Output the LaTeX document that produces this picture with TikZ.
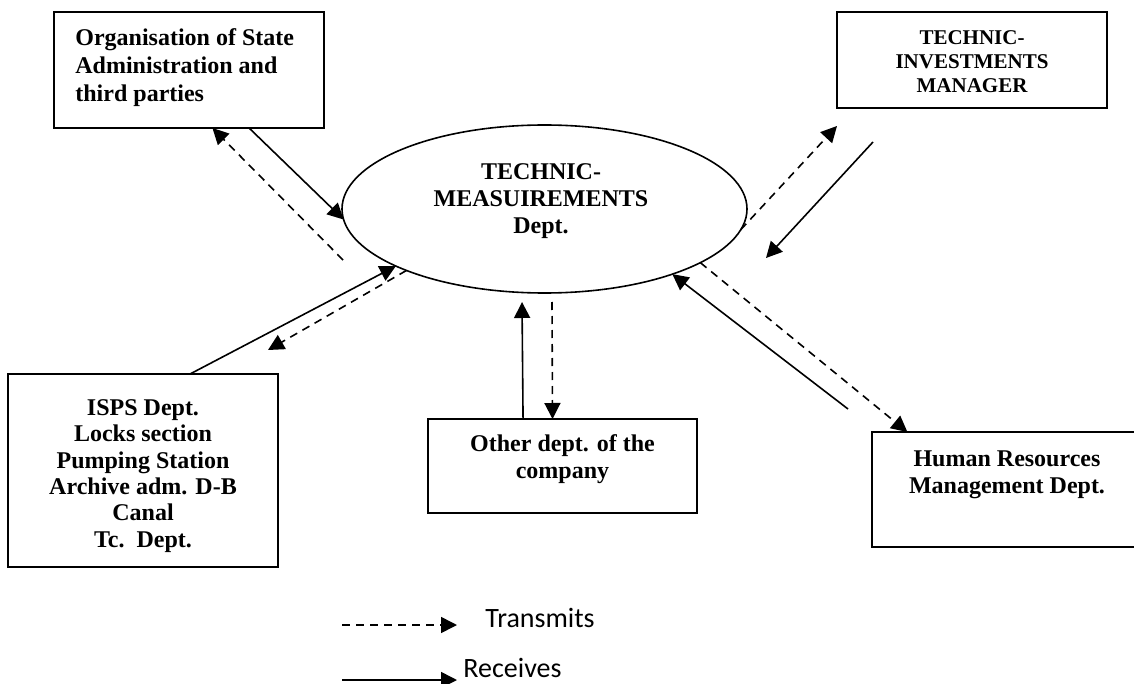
\documentclass[tikz,border=0pt]{standalone}
\usepackage{fontspec}
\setmainfont{Liberation Serif}
\newfontfamily\legendfont{Carlito}
\usetikzlibrary{shapes.geometric,arrows.meta}

\begin{document}
\begin{tikzpicture}[x=0.5pt,y=-0.5pt,
        dept/.style={draw,line width=1pt,inner sep=0pt,outer sep=0pt,minimum width=135pt},
        txt/.style={font=\bfseries\fontsize{12}{13.5}\selectfont,align=center,inner sep=0pt},
        send/.style={-{Triangle[length=8pt,width=8pt]},line width=0.8pt,dash pattern=on 4pt off 3pt},
        recv/.style={-{Triangle[length=8pt,width=8pt]},line width=0.8pt}]
        \useasboundingbox (0,0) rectangle (1134,684);

        % the department in the middle
        \node[draw,ellipse,line width=0.8pt,inner sep=0pt,outer sep=0pt,
              minimum width=202.5pt,minimum height=84pt] (meas) at (544.5,209) {};
        \node[txt] (meastxt) at (541,201.5) {TECHNIC-\\MEASUIREMENTS\\Dept.};

        % boxes round it
        \node[dept,minimum height=58pt] (org) at (189,70) {};
        \node[txt,font=\bfseries\fontsize{12}{14}\selectfont,align=left,anchor=west] (orgtxt) at (75,67.5)
            {Organisation of State\\Administration and\\third parties};
        \node[dept,minimum height=48pt] (tim) at (972,60) {};
        \node[txt,font=\bfseries\fontsize{10.5}{12}\selectfont] (timtxt) at (972,62)
            {TECHNIC-\\INVESTMENTS\\MANAGER};
        \node[dept,minimum height=96.5pt] (isps) at (143,470.5) {};
        \node[txt,font=\bfseries\fontsize{12}{13.2}\selectfont] (ispstxt) at (143,476)
            {ISPS Dept.\\Locks section\\Pumping Station\\Archive adm. D-B\\Canal\\Tc.\ \ Dept.};
        \node[dept,minimum width=134.5pt,minimum height=47pt] (other) at (562.5,466) {};
        \node[txt] (othertxt) at (562.5,459.5) {Other dept. of the\\company};
        \node[dept,minimum height=57.5pt] (hr) at (1007,489.5) {};
        \node[txt] (hrtxt) at (1007,474.5) {Human Resources\\Management Dept.};

        % free ends of the arrows
        \coordinate (orgfrom) at (343,260);
        \coordinate (ispsto) at (268,350);
        \coordinate (otherto) at (522,302);
        \coordinate (otherfrom) at (552,302);
        \coordinate (timto) at (837,126);
        \coordinate (timfrom) at (873,142);
        \coordinate (timtip) at (766,258);
        \coordinate (hrfrom) at (848,409);

        \draw[recv] (org.316.4) -- (meas.183);
        \draw[send] (orgfrom) -- (org.292.5);
        \draw[recv] (isps.64.5) -- (meas.201);
        \draw[send] (meas.204) -- (ispsto);
        \draw[recv] (other.130.75) -- (otherto);
        \draw[send] (otherfrom) -- (other.102.6);
        \draw[send] (meas.354.5) -- (timto);
        \draw[recv] (timfrom) -- (timtip);
        \draw[send] (meas.341.5) -- (hr.150.1);
        \draw[recv] (hrfrom) -- (meas.333.5);

        % legend
        \coordinate (lgsa) at (342,625);
        \coordinate (lgsb) at (457,625);
        \coordinate (lgra) at (342,680);
        \coordinate (lgrb) at (457,680);
        \draw[send] (lgsa) -- (lgsb);
        \draw[recv] (lgra) -- (lgrb);
        \node[anchor=west,inner sep=0pt,font=\legendfont\fontsize{14}{16}\selectfont] (lgsend) at (485,618) {Transmits};
        \node[anchor=west,inner sep=0pt,font=\legendfont\fontsize{14}{16}\selectfont] (lgrecv) at (463,668) {Receives};
    \end{tikzpicture}
\end{document}
